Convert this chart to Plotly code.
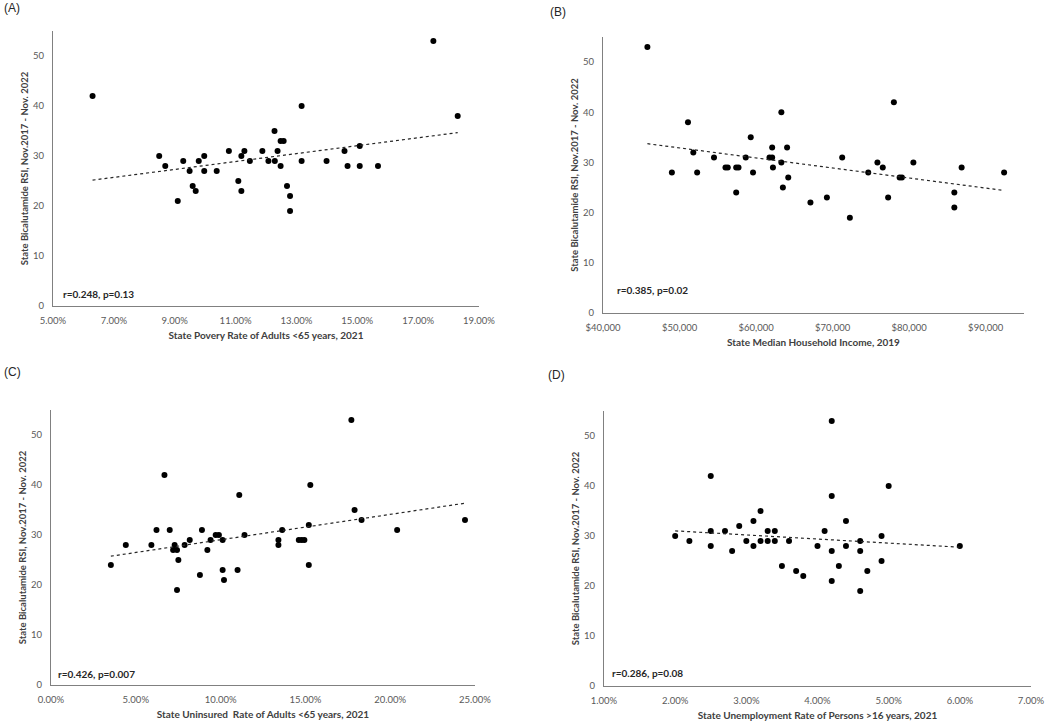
import numpy as np
import plotly.graph_objects as go

# (A) poverty rate (%) vs RSI
pov_x = [6.30, 8.49, 8.69, 9.10, 9.28, 9.49, 9.59, 9.69, 9.79, 9.97, 9.97, 10.38, 10.78,
         11.09, 11.19, 11.19, 11.29, 11.47, 11.88, 12.08, 12.28, 12.29, 12.38, 12.48, 12.48,
         12.58, 12.69, 12.79, 12.79, 13.17, 13.17, 13.99, 14.58, 14.68, 15.08, 15.08, 15.68,
         17.50, 18.30]
pov_y = [42, 30, 28, 21, 29, 27, 24, 23, 29, 30, 27, 27, 31,
         25, 30, 23, 31, 29, 31, 29, 35, 29, 31, 33, 28,
         33, 24, 22, 19, 40, 29, 29, 31, 28, 32, 28, 28,
         53, 38]

# (B) median household income vs RSI
inc_x = [45800, 49000, 51100, 51800, 52300, 54500, 56000, 56300, 57400, 57400, 57700, 58650,
         59300, 59600, 61750, 62100, 62100, 62200, 63300, 63300, 63500, 64050, 64200, 67100,
         69250, 71250, 72250, 74650, 75850, 76550, 77250, 78000, 78750, 79050, 80550, 85900,
         85900, 86850, 92400]
inc_y = [53, 28, 38, 32, 28, 31, 29, 29, 29, 24, 29, 31,
         35, 28, 31, 33, 31, 29, 40, 30, 25, 33, 27, 22,
         23, 31, 19, 28, 30, 29, 23, 42, 27, 27, 30, 24,
         21, 29, 28]

# (C) uninsured rate (%) vs RSI
uni_x = [3.53, 4.41, 5.92, 6.22, 6.69, 7.00, 7.29, 7.20, 7.43, 7.51, 7.43, 7.88, 8.18,
         8.78, 8.90, 9.22, 9.41, 9.71, 9.90, 10.12, 10.12, 10.20, 11.00, 11.10, 11.41,
         13.41, 13.41, 13.63, 14.61, 14.78, 14.94, 15.20, 15.20, 15.29, 17.71, 17.90,
         18.31, 20.41, 24.41]
uni_y = [24, 28, 28, 31, 42, 31, 28, 27, 27, 25, 19, 28, 29,
         22, 31, 27, 29, 30, 30, 29, 23, 21, 23, 38, 30,
         29, 28, 31, 29, 29, 29, 32, 24, 40, 53, 35,
         33, 31, 33]

# (D) unemployment rate (%) vs RSI
une_x = [2.0, 2.2, 2.5, 2.5, 2.5, 2.7, 2.8, 2.9, 3.0, 3.1, 3.1, 3.2, 3.2, 3.3, 3.3,
         3.4, 3.4, 3.5, 3.6, 3.7, 3.8, 4.0, 4.1, 4.2, 4.2, 4.2, 4.2, 4.3, 4.4, 4.4,
         4.6, 4.6, 4.6, 4.7, 4.9, 4.9, 5.0, 6.0]
une_y = [30, 29, 42, 31, 28, 31, 27, 32, 29, 33, 28, 35, 29, 31, 29,
         31, 29, 24, 29, 23, 22, 28, 31, 53, 38, 27, 21, 24, 33, 28,
         29, 27, 19, 23, 30, 25, 40, 28]

panels = [
    dict(x=pov_x, y=pov_y, label="(A)", stat="r=0.248, p=0.13",
         title="State Povery Rate of Adults <65 years, 2021",
         rng=[5, 19], dtick=2, fmt=".2f", suf="%", pre="",
         dx=[53, 479], dy=[31, 306], lab=(2, 8), st=(0.019, 0.044)),
    dict(x=inc_x, y=inc_y, label="(B)", stat="r=0.385, p=0.02",
         title="State Median Household Income, 2019",
         rng=[40000, 95000], dtick=10000, fmt=",d", suf="", pre="$",
         dx=[603, 1024], dy=[37, 313], lab=(548, 12), st=(0.028, 0.083)),
    dict(x=uni_x, y=uni_y, label="(C)", stat="r=0.426, p=0.007",
         title="State Uninsured  Rate of Adults <65 years, 2021",
         rng=[0, 25], dtick=5, fmt=".2f", suf="%", pre="",
         dx=[51, 475], dy=[410, 685], lab=(2, 372), st=(0.012, 0.04)),
    dict(x=une_x, y=une_y, label="(D)", stat="r=0.286, p=0.08",
         title="State Unemployment Rate of Persons >16 years, 2021",
         rng=[1, 7], dtick=1, fmt=".2f", suf="%", pre="",
         dx=[604, 1031], dy=[411, 686], lab=(546, 375), st=(0.014, 0.047)),
]

W, H = 1050, 726
fig = go.Figure()
annotations = []
layout = {}

for i, p in enumerate(panels, start=1):
    xa = "x" if i == 1 else f"x{i}"
    ya = "y" if i == 1 else f"y{i}"
    fig.add_trace(go.Scatter(x=p["x"], y=p["y"], mode="markers", xaxis=xa, yaxis=ya,
                             marker=dict(color="black", size=6), showlegend=False))
    # linear trend line
    slope, icpt = np.polyfit(p["x"], p["y"], 1)
    tx = [min(p["x"]), max(p["x"])]
    fig.add_trace(go.Scatter(x=tx, y=[slope * v + icpt for v in tx], mode="lines",
                             xaxis=xa, yaxis=ya, showlegend=False,
                             line=dict(color="#262626", width=1.2, dash="dot")))

    layout["xaxis" if i == 1 else f"xaxis{i}"] = dict(
        domain=[p["dx"][0] / W, p["dx"][1] / W], anchor=ya, range=p["rng"],
        dtick=p["dtick"], tick0=p["rng"][0], tickformat=p["fmt"], ticksuffix=p["suf"],
        tickprefix=p["pre"], showgrid=False, zeroline=False, showline=True,
        linecolor="#808080", linewidth=1.3, ticks="", ticklabelstandoff=5,
        automargin=False,
        tickfont=dict(family="Lato", size=9.5, color="#595959"),
        title=dict(text="<b>" + p["title"] + "</b>", standoff=7,
                   font=dict(family="Lato", size=10, color="#404040")))
    layout["yaxis" if i == 1 else f"yaxis{i}"] = dict(
        domain=[1 - p["dy"][1] / H, 1 - p["dy"][0] / H], anchor=xa, range=[0, 55],
        dtick=10, showgrid=False, zeroline=False, showline=True,
        linecolor="#808080", linewidth=1.3, ticks="", ticklabelstandoff=6,
        automargin=False,
        tickfont=dict(family="Lato", size=9.5, color="#595959"),
        title=dict(text="<b>State Bicalutamide RSI, Nov.2017 - Nov. 2022</b>", standoff=2,
                   font=dict(family="Lato", size=9.5, color="#404040")))

    annotations.append(dict(text="<b>" + p["stat"] + "</b>", xref=f"{xa} domain",
                            yref=f"{ya} domain", x=p["st"][0], y=p["st"][1],
                            xanchor="left", yanchor="middle", showarrow=False,
                            font=dict(family="Lato", size=10, color="#262626")))
    annotations.append(dict(text=p["label"], xref="paper", yref="paper",
                            x=p["lab"][0] / W, y=1 - p["lab"][1] / H,
                            xanchor="left", yanchor="middle", showarrow=False,
                            font=dict(family="Liberation Sans", size=12, color="#262626")))

fig.update_layout(width=W, height=H,
                  margin=dict(l=0, r=0, t=0, b=0, autoexpand=False),
                  plot_bgcolor="white", paper_bgcolor="white",
                  annotations=annotations, **layout)

# drop the default page margin so the figure sits at the window's corner
fig.write_html("out.html", config={"displayModeBar": False},
               post_script="document.body.style.margin='0';")
